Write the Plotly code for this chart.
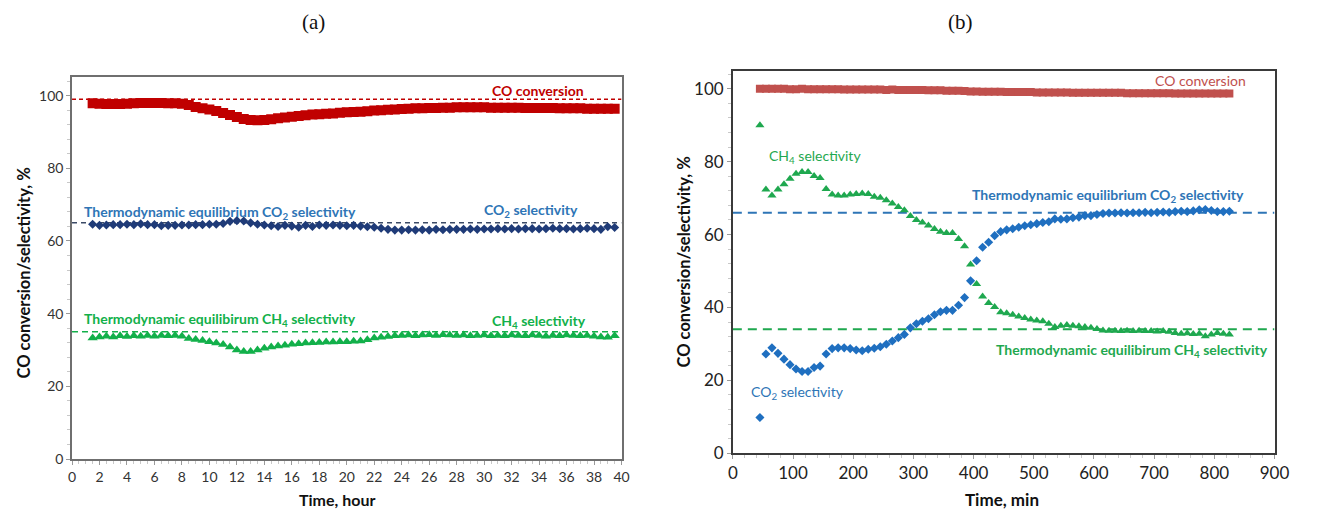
import plotly.graph_objects as go

# ---------------- (a) time on stream, hours ----------------
time_h = [1.5, 2.0, 2.5, 3.0, 3.5, 4.0, 4.5, 5.0, 5.5, 6.0, 6.5, 7.0, 7.5, 8.0,
          8.5, 9.0, 9.5, 10.0, 10.5, 11.0, 11.5, 12.0, 12.5, 13.0,
          13.5, 14.0, 14.5, 15.0, 15.5, 16.0, 16.5, 17.0, 17.5, 18.0, 18.5, 19.0,
          19.5, 20.0, 20.5, 21.0, 21.5, 22.0, 22.5, 23.0, 23.5, 24.0, 24.5, 25.0,
          25.5, 26.0, 26.5, 27.0, 27.5, 28.0,
          28.5, 29.0, 29.5, 30.0, 30.5, 31.0, 31.5, 32.0, 32.5, 33.0, 33.5, 34.0,
          34.5, 35.0, 35.5, 36.0, 36.5, 37.0, 37.5, 38.0, 38.5, 39.0, 39.5]

co_conv_a = [97.9, 97.8, 97.7, 97.7, 97.7, 97.8, 97.9, 98.0, 98.0, 98.0, 98.0, 97.9, 97.9, 97.8,
             97.4, 96.9, 96.5, 96.2, 95.8, 95.2, 94.7, 94.1, 93.6, 93.3,
             93.2, 93.3, 93.5, 93.8, 94.0, 94.2, 94.4, 94.6, 94.8, 94.9, 95.0, 95.1,
             95.3, 95.4, 95.5, 95.6, 95.7, 95.9, 96.0, 96.1, 96.2, 96.3, 96.4, 96.5,
             96.5, 96.6, 96.6, 96.7, 96.7, 96.8,
             96.8, 96.8, 96.8, 96.8, 96.7, 96.7, 96.7, 96.7, 96.7, 96.6, 96.6, 96.6,
             96.6, 96.6, 96.5, 96.5, 96.5, 96.5, 96.4, 96.4, 96.4, 96.4, 96.4]

co2_sel_a = [64.6, 64.3, 64.4, 64.5, 64.5, 64.6, 64.5, 64.7, 64.5, 64.5, 64.2, 64.3, 64.3, 64.4,
             64.4, 64.5, 64.5, 64.6, 64.6, 64.8, 65.4, 65.6, 65.5, 65.0,
             64.6, 64.4, 64.2, 64.0, 64.3, 64.1, 63.8, 64.3, 64.0, 64.4, 64.3, 64.4,
             64.3, 64.2, 64.3, 64.1, 63.9, 63.8, 63.5, 63.2, 63.0, 63.0, 63.1, 63.0,
             63.1, 63.0, 63.2, 63.1, 63.2, 63.2,
             63.2, 63.3, 63.2, 63.3, 63.3, 63.4, 63.3, 63.4, 63.3, 63.4, 63.4, 63.3,
             63.4, 63.5, 63.4, 63.4, 63.3, 63.4, 63.5, 63.4, 63.2, 63.9, 63.7]

ch4_sel_a = [33.3, 33.6, 33.8, 33.6, 33.9, 33.7, 33.9, 33.8, 34.0, 33.8, 34.0, 33.9, 34.0, 33.8,
             33.2, 32.9, 32.6, 32.3, 31.9, 31.5, 30.8, 30.0, 29.6, 29.6,
             30.0, 30.5, 30.8, 31.1, 31.3, 31.6, 31.7, 31.9, 32.0, 32.1, 32.2, 32.2,
             32.3, 32.3, 32.4, 32.5, 32.8, 33.3, 33.5, 33.7, 33.9, 34.0, 34.1, 33.9,
             34.1, 34.2, 34.0, 34.2, 34.1, 34.0,
             34.1, 33.9, 34.0, 34.1, 33.9, 34.0, 33.9, 34.1, 34.0, 33.9, 34.1, 34.0,
             33.8, 34.0, 33.9, 34.1, 34.0, 33.9, 34.0, 33.8, 33.6, 33.5, 33.9]

eq_span_a = [0, 40]
eq_co_a = 99
eq_co2_a = 65
eq_ch4_a = 35

# ---------------- (b) time on stream, minutes ----------------
time_min = [45, 55, 65, 75, 85, 95, 105, 115, 125, 135, 145, 155, 165, 175, 185, 195,
            205, 215, 225, 235, 245, 255, 265, 275, 285, 295, 305, 315, 325, 335, 345,
            355, 365, 375, 385, 395, 405, 415, 425, 435, 445, 455, 465, 475, 485, 495,
            505, 515, 525, 535, 545, 555, 565, 575, 585, 595, 605, 615, 625, 635, 645,
            655, 665, 675, 685, 695, 705, 715, 725, 735, 745, 755, 765, 775, 785, 795,
            805, 815, 825]

co_conv_b = [100.0, 100.0, 100.0, 100.0, 100.0, 99.9, 99.9, 100.0, 99.9, 99.9, 99.9, 99.9,
             99.9, 99.9, 99.8, 99.8, 99.8, 99.8, 99.8, 99.8, 99.8, 99.7, 99.8, 99.7,
             99.7, 99.7, 99.7, 99.7, 99.6, 99.6, 99.6, 99.5, 99.5, 99.5, 99.4, 99.3,
             99.3, 99.2, 99.2, 99.2, 99.2, 99.1, 99.1, 99.1, 99.1, 99.1, 99.0, 99.0,
             99.0, 99.0, 99.0, 99.0, 98.9, 98.9, 98.9, 98.9, 98.9, 98.9, 98.9, 98.9,
             98.9, 98.8, 98.8, 98.8, 98.8, 98.8, 98.8, 98.8, 98.8, 98.7, 98.7, 98.7,
             98.7, 98.7, 98.7, 98.7, 98.7, 98.7, 98.7]

ch4_sel_b = [90.0, 72.4, 70.7, 72.4, 73.8, 75.3, 76.7, 77.2, 77.2, 76.1, 75.5, 72.5,
             71.0, 70.7, 70.7, 71.0, 71.1, 71.3, 71.1, 70.4, 70.1, 69.4, 68.5, 67.6,
             66.7, 65.1, 64.0, 63.3, 62.5, 61.5, 60.8, 60.4, 60.4, 58.8, 56.8, 51.8,
             46.4, 43.0, 41.2, 40.1, 38.7, 38.4, 38.0, 37.5, 37.1, 36.7, 36.4, 36.2,
             35.5, 34.6, 35.0, 35.2, 35.0, 34.8, 34.6, 34.4, 34.1, 33.7, 33.6, 33.6,
             33.5, 33.6, 33.5, 33.6, 33.5, 33.5, 33.4, 33.5, 33.3, 33.0, 32.8, 32.9,
             32.7, 32.8, 32.1, 32.6, 33.0, 32.8, 32.6]

co2_sel_b = [9.8, 27.2, 28.9, 27.4, 25.8, 24.3, 23.1, 22.4, 22.4, 23.5, 23.9, 27.2,
             28.7, 28.9, 28.9, 28.7, 28.3, 28.1, 28.5, 28.8, 29.2, 29.9, 30.8, 31.7,
             32.6, 34.4, 35.5, 36.2, 36.9, 38.0, 38.8, 39.2, 39.2, 40.6, 42.7, 47.3,
             52.8, 56.5, 57.9, 59.7, 60.8, 61.3, 61.6, 62.0, 62.4, 62.7, 63.0, 63.3,
             63.5, 64.3, 64.2, 64.3, 64.6, 64.8, 65.2, 65.2, 65.5, 65.8, 65.9, 65.9,
             66.0, 65.9, 66.0, 66.0, 66.1, 66.0, 66.1, 66.2, 66.1, 66.3, 66.4, 66.3,
             66.5, 66.8, 66.9, 66.6, 66.3, 66.3, 66.4]

eq_span_b = [0, 900]
eq_co2_b = 66
eq_ch4_b = 34

# ---------------- styling ----------------
FONT = "Lato"
RED_A, NAVY_A, GREEN_A = "#c00000", "#1f3b78", "#12b04a"
RED_B, BLUE_B, GREEN_B = "#c0504d", "#1f6fc0", "#1fa84f"
LABEL_BLUE = "#2e75b6"

fig = go.Figure()

# panel (a)
fig.add_trace(go.Scatter(x=eq_span_a, y=[eq_co_a] * 2, mode="lines",
                         line=dict(color=RED_A, width=1.5, dash="4px,3px"),
                         xaxis="x", yaxis="y"))
fig.add_trace(go.Scatter(x=eq_span_a, y=[eq_co2_a] * 2, mode="lines",
                         line=dict(color="#3b4a66", width=1.5, dash="5px,4px"),
                         xaxis="x", yaxis="y"))
fig.add_trace(go.Scatter(x=eq_span_a, y=[eq_ch4_a] * 2, mode="lines",
                         line=dict(color=GREEN_A, width=1.5, dash="6px,4px"),
                         xaxis="x", yaxis="y"))
fig.add_trace(go.Scatter(x=time_h, y=co_conv_a, mode="markers",
                         marker=dict(symbol="square", size=10, color=RED_A),
                         xaxis="x", yaxis="y"))
fig.add_trace(go.Scatter(x=time_h, y=co2_sel_a, mode="markers",
                         marker=dict(symbol="diamond", size=7, color=NAVY_A),
                         xaxis="x", yaxis="y"))
fig.add_trace(go.Scatter(x=time_h, y=ch4_sel_a, mode="markers",
                         marker=dict(symbol="triangle-up", size=9, color=GREEN_A),
                         xaxis="x", yaxis="y"))

# panel (b)
fig.add_trace(go.Scatter(x=eq_span_b, y=[eq_co2_b] * 2, mode="lines",
                         line=dict(color=LABEL_BLUE, width=2, dash="9px,6px"),
                         xaxis="x2", yaxis="y2"))
fig.add_trace(go.Scatter(x=eq_span_b, y=[eq_ch4_b] * 2, mode="lines",
                         line=dict(color=GREEN_B, width=2, dash="9px,6px"),
                         xaxis="x2", yaxis="y2"))
fig.add_trace(go.Scatter(x=time_min, y=co_conv_b, mode="markers",
                         marker=dict(symbol="square", size=8, color=RED_B),
                         xaxis="x2", yaxis="y2"))
fig.add_trace(go.Scatter(x=time_min, y=ch4_sel_b, mode="markers",
                         marker=dict(symbol="triangle-up", size=8, color=GREEN_B),
                         xaxis="x2", yaxis="y2"))
fig.add_trace(go.Scatter(x=time_min, y=co2_sel_b, mode="markers",
                         marker=dict(symbol="diamond", size=7, color=BLUE_B),
                         xaxis="x2", yaxis="y2"))

axis_common = dict(showgrid=False, zeroline=False, showline=True, mirror=True,
                   ticks="outside", ticklen=4)

fig.update_layout(
    width=1319, height=521,
    margin=dict(l=0, r=0, t=0, b=0),
    paper_bgcolor="white", plot_bgcolor="white",
    showlegend=False,
    xaxis=dict(axis_common, domain=[0.0516, 0.4746], range=[0, 40], dtick=2,
               linecolor="#6f6f6f", linewidth=1.5, tickcolor="#9a9a9a",
               tickfont=dict(family=FONT, size=14, color="#333333"),
               minor=dict(dtick=0.5, ticks="outside", ticklen=3, tickcolor="#c8c8c8"),
               anchor="y"),
    yaxis=dict(axis_common, domain=[0.1017, 0.8484], range=[0, 105],
               tickvals=[0, 20, 40, 60, 80, 100],
               linecolor="#6f6f6f", linewidth=1.5, tickcolor="#9a9a9a",
               tickfont=dict(family=FONT, size=14, color="#333333"),
               minor=dict(dtick=4, ticks="outside", ticklen=3, tickcolor="#c8c8c8"),
               anchor="x"),
    xaxis2=dict(axis_common, domain=[0.5603, 0.9773], range=[0, 900], dtick=100,
                linecolor="#3a3a3a", linewidth=1.5, tickcolor="#9a9a9a",
                tickfont=dict(family=FONT, size=17, color="#222222"),
                minor=dict(dtick=20, ticks="outside", ticklen=3, tickcolor="#c8c8c8"),
                anchor="y2"),
    yaxis2=dict(axis_common, domain=[0.1132, 0.8618], range=[0, 105],
                tickvals=[0, 20, 40, 60, 80, 100],
                linecolor="#3a3a3a", linewidth=1.5, tickcolor="#9a9a9a",
                tickfont=dict(family=FONT, size=17, color="#222222"),
                minor=dict(dtick=4, ticks="outside", ticklen=3, tickcolor="#c8c8c8"),
                anchor="x2"),
)

ann = []


def label(text, x, y, color, xref, yref, size=14, bold=True, xanchor="center"):
    ann.append(dict(text=f"<b>{text}</b>" if bold else text, x=x, y=y,
                    xref=xref, yref=yref, showarrow=False, xanchor=xanchor,
                    yanchor="middle",
                    font=dict(family=FONT, size=size, color=color)))


def paper_text(text, px, py, size, family=FONT, angle=0):
    ann.append(dict(text=text, x=px / 1319, y=1 - py / 521, xref="paper", yref="paper",
                    xanchor="center", yanchor="middle", textangle=angle,
                    showarrow=False, font=dict(family=family, size=size, color="#111111")))


# series labels, panel (a)
label("CO conversion", 33.9, 101.3, RED_A, "x", "y")
label("Thermodynamic equilibrium CO<sub>2</sub> selectivity", 0.7, 67.8, LABEL_BLUE,
      "x", "y", xanchor="left")
label("CO<sub>2</sub> selectivity", 33.4, 68.3, LABEL_BLUE, "x", "y")
label("Thermodynamic equilibirum CH<sub>4</sub> selectivity", 0.7, 38.4, GREEN_A,
      "x", "y", xanchor="left")
label("CH<sub>4</sub> selectivity", 34.0, 37.9, GREEN_A, "x", "y")

# series labels, panel (b)
label("CO conversion", 777, 102.2, RED_B, "x2", "y2", size=14, bold=False)
label("CH<sub>4</sub> selectivity", 136, 81.5, GREEN_B, "x2", "y2", size=14, bold=False)
label("Thermodynamic equilibrium CO<sub>2</sub> selectivity", 623, 70.7, LABEL_BLUE,
      "x2", "y2")
label("Thermodynamic equilibirum CH<sub>4</sub> selectivity", 663, 28.2, GREEN_B,
      "x2", "y2")
label("CO<sub>2</sub> selectivity", 108, 16.7, LABEL_BLUE, "x2", "y2", size=14, bold=False)

# axis titles
paper_text("<b>CO conversion/selectivity, %</b>", 19, 278, 16.5, angle=-90)
paper_text("<b>CO conversion/selectivity, %</b>", 689, 267, 16.5, angle=-90)
paper_text("<b>Time, hour</b>", 337, 509, 16)
paper_text("<b>Time, min</b>", 1012, 509, 17)

# panel letters
paper_text("(a)", 313, 22, 21, family="Liberation Serif")
paper_text("(b)", 970, 22, 21, family="Liberation Serif")

fig.update_layout(annotations=ann)

fig.write_html("out.html")
